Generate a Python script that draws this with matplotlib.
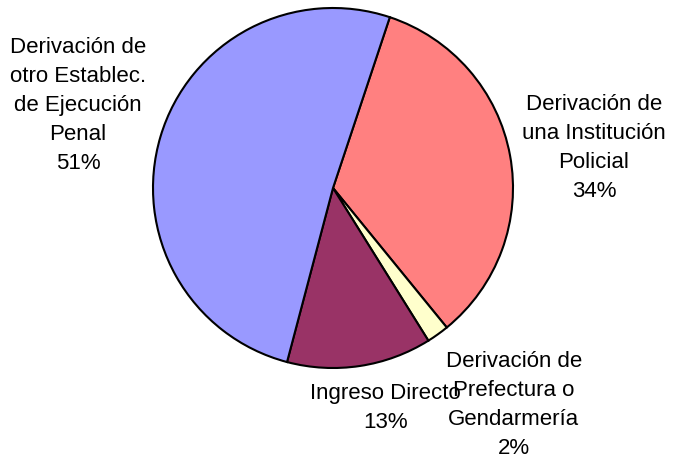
import matplotlib
matplotlib.use("Agg")
import matplotlib.pyplot as plt

labels = ["Derivación de\nuna Institución\nPolicial", "Derivación de\nPrefectura o\nGendarmería",
          "Ingreso Directo", "Derivación de\notro Establec.\nde Ejecución\nPenal"]
values = [34, 2, 13, 51]
colors = ["#FF8080", "#FFFFCC", "#993366", "#9999FF"]
label_pos = [(1.45, 0.222), (1.005, -1.205), (0.29, -1.22), (-1.417, 0.456)]

plt.rcParams['font.family'] = ['Liberation Sans', 'DejaVu Sans']
W, H = 673, 463
fig = plt.figure(figsize=(W / 100, H / 100), dpi=100)
cx, cy, r = 333, 188, 180
ax = fig.add_axes([(cx - r) / W, (H - cy - r) / H, 2 * r / W, 2 * r / H])
ax.pie(values, colors=colors, startangle=71.6, counterclock=False,
       wedgeprops=dict(edgecolor="black", linewidth=1.5))
ax.set_xlim(-1, 1)
ax.set_ylim(-1, 1)
ax.set_aspect("equal")
ax.axis("off")
total = sum(values)
for lab, v, (x, y) in zip(labels, values, label_pos):
    ax.text(x, y, f"{lab}\n{round(100 * v / total)}%", ha="center", va="center",
            fontsize=16, linespacing=1.5, clip_on=False, color="black")
fig.savefig("out.png", dpi=100)
